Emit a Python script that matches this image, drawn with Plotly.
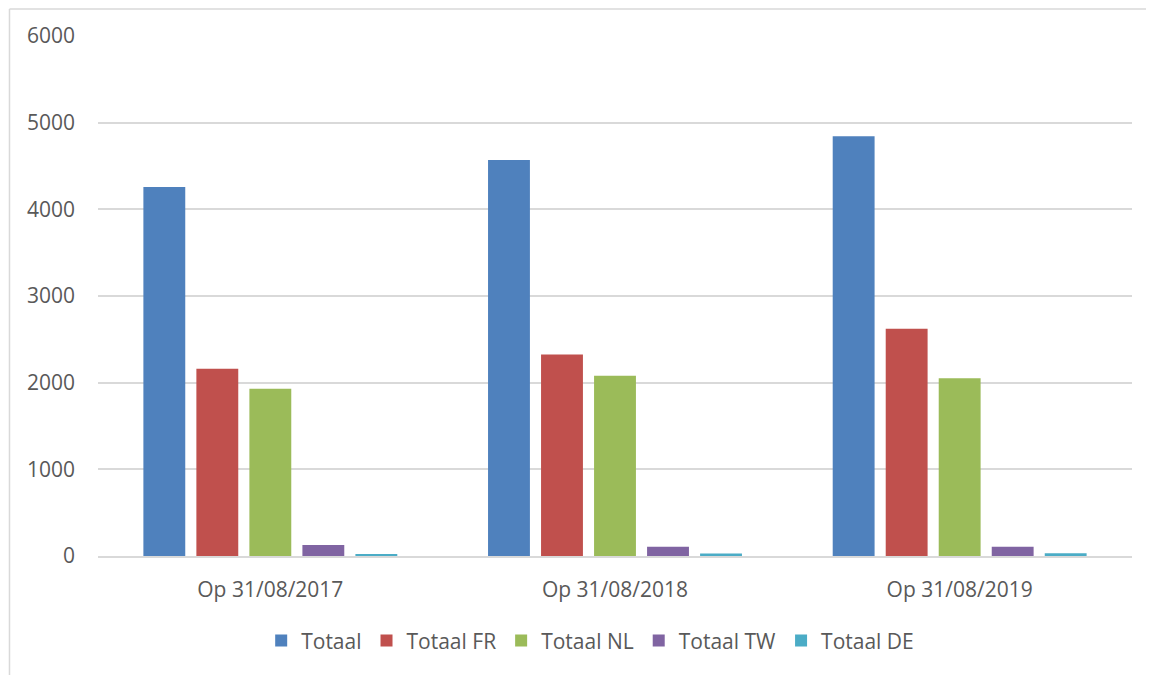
import plotly.graph_objects as go

categories = ["Op 31/08/2017", "Op 31/08/2018", "Op 31/08/2019"]
series_names = ["Totaal", "Totaal FR", "Totaal NL", "Totaal TW", "Totaal DE"]
totaal = [4257, 4569, 4842]
totaal_fr = [2160, 2325, 2621]
totaal_nl = [1930, 2080, 2052]
totaal_tw = [128, 108, 108]
totaal_de = [22, 28, 31]
colors = ["#4F81BD", "#C0504D", "#9BBB59", "#8064A2", "#4BACC6"]
y_ticks = [0, 1000, 2000, 3000, 4000, 5000, 6000]

values = [totaal, totaal_fr, totaal_nl, totaal_tw, totaal_de]

fig = go.Figure()
for name, vals, col in zip(series_names, values, colors):
    fig.add_trace(go.Bar(x=categories, y=vals, name=name,
                         marker=dict(color=col, line=dict(width=0))))

font_family = "Open Sans"
text_color = "#595959"

fig.update_layout(
    width=1146, height=667,
    margin=dict(l=90, r=22, t=28, b=119),
    paper_bgcolor="white", plot_bgcolor="white",
    barmode="group", bargap=0.231, bargroupgap=0.21,
    font=dict(family=font_family, size=21, color=text_color),
    showlegend=True,
    legend=dict(orientation="h", x=0.476, xanchor="center", y=-0.163, yanchor="middle",
                font=dict(size=21, color=text_color), itemwidth=30,
                traceorder="normal"),
    xaxis=dict(showgrid=False, showline=True, linecolor="#d9d9d9", linewidth=1.5,
               ticks="", ticklabelstandoff=14, tickfont=dict(size=21, color=text_color)),
    yaxis=dict(range=[0, 6000], tickvals=y_ticks, showgrid=True, gridcolor="#d9d9d9",
               gridwidth=1.5, zeroline=False, showline=False, ticks="",
               ticklabelstandoff=22, tickfont=dict(size=21, color=text_color)),
    shapes=[
        dict(type="line", xref="paper", yref="paper", x0=-0.0856, x1=-0.0856,
             y0=1.0519, y1=-0.235, line=dict(color="#d9d9d9", width=1.5)),
        dict(type="line", xref="paper", yref="paper", x0=-0.0856, x1=1.03,
             y0=1.0519, y1=1.0519, line=dict(color="#d9d9d9", width=1.5)),
    ],
)

fig.write_html("out.html")
